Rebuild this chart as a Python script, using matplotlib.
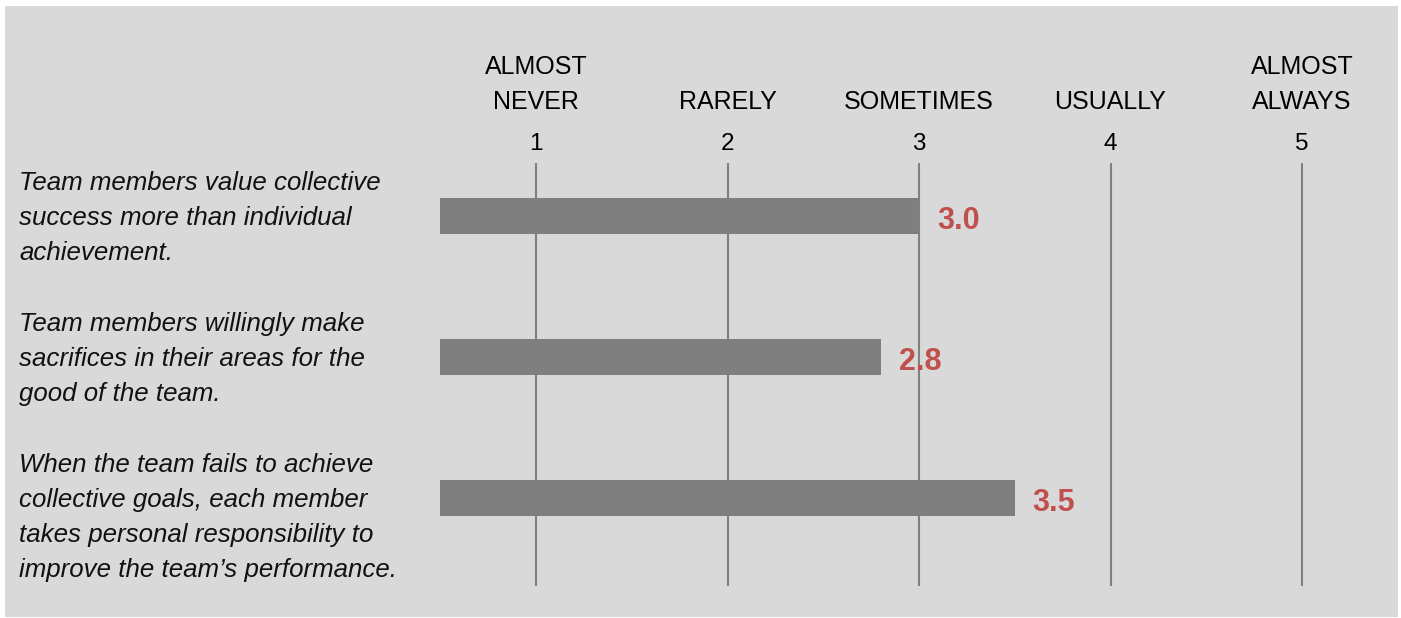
import matplotlib
matplotlib.use("Agg")
import matplotlib.pyplot as plt
from matplotlib.patches import Rectangle

# survey statements and their mean scores
questions = [
    "Team members value collective\nsuccess more than individual\nachievement.",
    "Team members willingly make\nsacrifices in their areas for the\ngood of the team.",
    "When the team fails to achieve\ncollective goals, each member\ntakes personal responsibility to\nimprove the team\u2019s performance.",
]
scores = [3.0, 2.8, 3.5]
scale_values = [1, 2, 3, 4, 5]
scale_labels = ["ALMOST\nNEVER", "RARELY", "SOMETIMES", "USUALLY", "ALMOST\nALWAYS"]

W, H = 1401, 618
BG = "#d9d9d9"
BAR = "#7f7f7f"
RED = "#c0504d"
FONT = ["Liberation Sans", "DejaVu Sans"]
plt.rcParams["font.family"] = FONT

# pixel geometry: x unit and y unit (one row) in pixels
XU, X1 = 191.5, 536      # px per scale step, px of value 1
YU, Y0 = 141.0, 216      # px per row, px of first row centre


def ypx(p):
    """pixel row (from top) -> data y"""
    return (p - Y0) / YU


fig = plt.figure(figsize=(W / 100, H / 100), dpi=100, facecolor="white")

ax = fig.add_axes([0, 0, 1, 1])
ax.set_facecolor("none")
ax.set_xlim(1 - X1 / XU, 1 + (W - X1) / XU)
ax.set_ylim(ypx(H), ypx(0))
ax.axis("off")

# grey panel behind everything
ax.add_patch(Rectangle((5 / W, 1 / H), 1393 / W, 611 / H, transform=fig.transFigure,
                       facecolor=BG, edgecolor="none", zorder=0))

# vertical scale lines
ax.vlines(scale_values, ypx(163), ypx(586), color="#808080", lw=1.5, zorder=1)

# header: category words above the numbers
line_px = 35 / YU
for v, lab in zip(scale_values, scale_labels):
    lines = lab.split("\n")
    for j, ln in enumerate(reversed(lines)):
        ax.text(v, ypx(109) - j * line_px, ln, ha="center", va="baseline",
                fontsize=18, color="black")
    ax.text(v, ypx(150), str(v), ha="center", va="baseline", fontsize=17.5, color="black")

# bars start at 0.5 on the scale
rows = list(range(len(scores)))
ax.barh(rows, [s - 0.5 for s in scores], left=0.5, height=36 / YU,
        color=BAR, zorder=2)

for r, s, q in zip(rows, scores, questions):
    ax.text(s + 18 / XU, r + 5 / YU, f"{s:.1f}", ha="left", va="center",
            fontsize=22, fontweight="bold", color=RED)
    for j, ln in enumerate(q.split("\n")):
        ax.text(1 - (X1 - 19) / XU, r - 26 / YU + j * line_px, ln, ha="left",
                va="baseline", fontsize=18.6, style="italic", color="#111111")

fig.savefig("out.png", dpi=100, facecolor="white")
